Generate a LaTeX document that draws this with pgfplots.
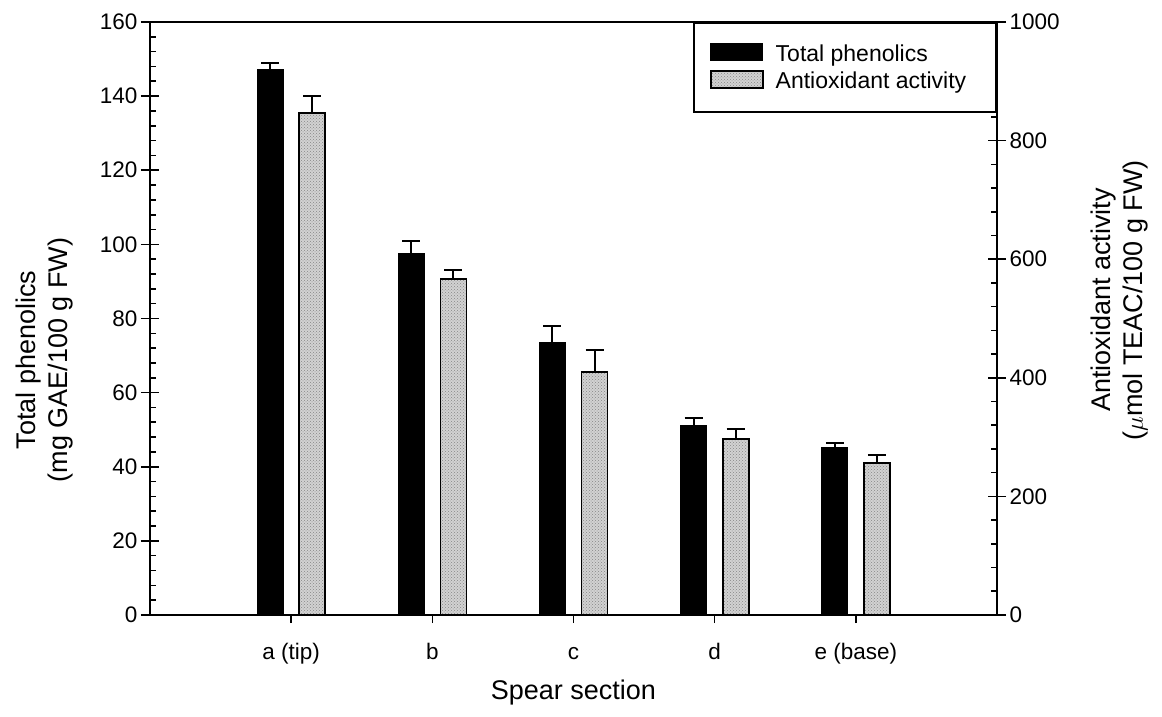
\documentclass[border=0pt]{standalone}
\usepackage{pgfplots}
\pgfplotsset{compat=1.18}
\usepackage{pgfplotstable}
\usetikzlibrary{patterns}
\usepackage{fontspec}
\setmainfont{Liberation Sans}

\pgfplotstableread{
x y e
1 147.3 1.6
2 97.6 3.4
3 73.4 4.6
4 51.0 2.2
5 45.3 1.0
}\phen
\pgfplotstableread{
x y e
1 847 29
2 567 14
3 410 37
4 297 16
5 256 13
}\anti

\pgfplotsset{
  base/.style={
    scale only axis, width=847pt, height=593pt,
    xmin=0, xmax=6, ymin=0,
    at={(0,0)}, anchor=south west,
    axis line style={line width=1.6pt},
    tick style={black, line width=1.6pt},
    tick label style={font=\fontsize{22.5}{26}\selectfont},
    /pgf/number format/assume math mode=true,
    /pgf/number format/1000 sep={},
    legend image code/.code={\draw[#1] (0pt,-7pt) rectangle (52pt,10pt);},
  },
  errs/.style={error bars/.cd, y dir=plus, y explicit,
    error bar style={line width=2pt, black, solid},
    error mark options={rotate=90, mark size=9pt, line width=2pt, black, solid}},
}

\begin{document}
\begin{tikzpicture}
% frame and x ticks
\begin{axis}[base, ymax=160,
  xtick={1,2,3,4,5}, xticklabels={a (tip), b, c, d, e (base)},
  xtick pos=left, tick align=outside, major tick length=8pt,
  xticklabel style={text height=0.75em, text depth=0.25em, yshift=-25pt},
  ytick=\empty,
  xlabel={Spear section},
  every axis x label/.style={at={(axis description cs:0.5,-0.13)}, anchor=center, font=\fontsize{27}{32}\selectfont},
]
\end{axis}
% left axis: total phenolics
\begin{axis}[base, ymax=160,
  axis y line*=left, axis x line=none,
  ytick={0,20,...,160}, minor y tick num=4,
  tick align=center, major tick length=18pt, minor tick length=6pt,
  minor tick style={xshift=3pt},
  ylabel={Total phenolics\\(mg GAE/100 g FW)},
  every axis y label/.style={at={(axis description cs:-0.124,0.43)}, rotate=90, anchor=center, align=center, font=\fontsize{27}{32}\selectfont},
]
\addplot[ybar, bar width=26pt, bar shift=0pt, fill=black, draw=black, line width=1pt, errs]
  table[x expr=\thisrow{x}-0.1492, y=y, y error=e]{\phen};
\end{axis}
% right axis: antioxidant activity
\begin{axis}[base, ymax=1000,
  axis y line*=right, axis x line=none,
  ytick={0,200,...,1000}, minor y tick num=4,
  tick align=center, major tick length=18pt, minor tick length=6pt,
  minor tick style={xshift=-3pt},
  ylabel={Antioxidant activity\\($\mu$mol TEAC/100 g FW)},
  every axis y label/.style={at={(axis description cs:1.145,0.531)}, rotate=90, anchor=center, align=center, font=\fontsize{27}{32}\selectfont},
  legend style={at={(rel axis cs:1,1)}, anchor=north east, draw=black, line width=1.6pt,
    font=\fontsize{23}{27}\selectfont, inner xsep=16pt, inner ysep=20pt, row sep=5pt,
    legend cell align=left},
]
\addlegendimage{fill=black, draw=black, line width=1pt}
\addlegendentry{\hspace{10pt}Total phenolics}
\addplot[ybar, bar width=26pt, bar shift=0pt, fill=gray!35, draw=black, line width=1.6pt,
  postaction={pattern=crosshatch dots, pattern color=gray!95}, errs]
  table[x expr=\thisrow{x}+0.1492, y=y, y error=e]{\anti};
\addlegendentry{\hspace{10pt}Antioxidant activity\hspace*{12pt}\mbox{}}
\end{axis}
\pgfresetboundingbox
\path[use as bounding box] (-150pt,-102pt) rectangle (1012pt,615pt);
\end{tikzpicture}
\end{document}
